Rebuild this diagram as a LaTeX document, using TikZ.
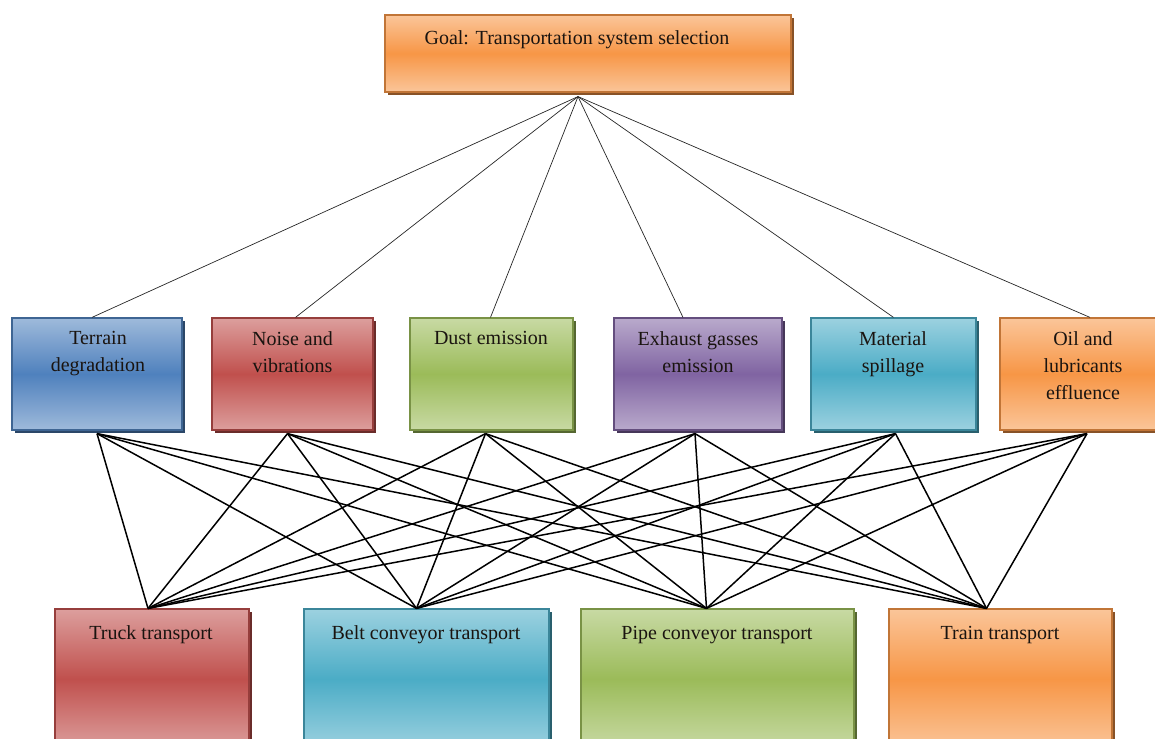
\documentclass[tikz,border=0pt]{standalone}
\usepackage{fontspec}
\setmainfont{Liberation Serif}
\usetikzlibrary{shadows,calc}
\definecolor{oblue}{HTML}{4F81BD}
\definecolor{ored}{HTML}{C0504D}
\definecolor{ogreen}{HTML}{9BBB59}
\definecolor{opurple}{HTML}{8064A2}
\definecolor{oaqua}{HTML}{4BACC6}
\definecolor{oorange}{HTML}{F79646}
\definecolor{txt}{HTML}{1A1410}
\tikzset{
  box/.style={rectangle, inner sep=0pt, draw=#1!78!black, line width=1.2pt,
    top color=#1!55!white, bottom color=#1!55!white, middle color=#1,
    drop shadow={shadow xshift=3pt, shadow yshift=-3pt, fill=#1!55!black, opacity=1}},
  lbl/.style={font=\fontsize{20}{27}\selectfont, align=center, inner sep=0pt, text=txt},
  toplink/.style={line width=0.7pt, black!85},
  botlink/.style={line width=1.5pt, black},
}
\begin{document}
\begin{tikzpicture}[x=1pt,y=-1pt]
\useasboundingbox (0,0) rectangle (1155,738);
\clip (0,0) rectangle (1155,738);
% goal
\node[box=oorange, minimum width=406pt, minimum height=77pt] (goal) at (588,53.5) {};
\node[lbl, anchor=base] (goalt) at (577,45) {Goal: Transportation system selection};
% criteria
\node[box=oblue,   minimum width=170pt, minimum height=112pt] (c1) at (97,374) {};
\node[box=ored,    minimum width=161pt, minimum height=112pt] (c2) at (292.5,374) {};
\node[box=ogreen,  minimum width=163pt, minimum height=112pt] (c3) at (491.5,374) {};
\node[box=opurple, minimum width=168pt, minimum height=112pt] (c4) at (698,374) {};
\node[box=oaqua,   minimum width=165pt, minimum height=112pt] (c5) at (893.5,374) {};
\node[box=oorange, minimum width=172pt, minimum height=112pt] (c6) at (1086,374) {};
\node[lbl, anchor=north] (c1t) at (98,331) {Terrain\\degradation};
\node[lbl, anchor=north] (c2t) at (292.5,331) {Noise and\\vibrations};
\node[lbl, anchor=north] (c3t) at (491,331) {Dust emission};
\node[lbl, anchor=north] (c4t) at (698,331) {Exhaust gasses\\emission};
\node[lbl, anchor=north] (c5t) at (893,331) {Material\\spillage};
\node[lbl, anchor=north] (c6t) at (1083,331) {Oil and\\lubricants\\effluence};
% alternatives
\node[box=ored,    minimum width=194pt, minimum height=140pt] (a1) at (152,679) {};
\node[box=oaqua,   minimum width=245pt, minimum height=140pt] (a2) at (426.5,679) {};
\node[box=ogreen,  minimum width=273pt, minimum height=140pt] (a3) at (717.5,679) {};
\node[box=oorange, minimum width=223pt, minimum height=140pt] (a4) at (1000.5,679) {};
\node[lbl, anchor=base] (a1t) at (151,639) {Truck transport};
\node[lbl, anchor=base] (a2t) at (426,639) {Belt conveyor transport};
\node[lbl, anchor=base] (a3t) at (717,639) {Pipe conveyor transport};
\node[lbl, anchor=base] (a4t) at (1000,639) {Train transport};
% goal links
\foreach \c/\s in {c1/-5,c2/3,c3/-1,c4/-15,c5/0,c6/4}
  \draw[toplink] ([xshift=-10pt,yshift=-4pt]goal.south) -- ([xshift=\s pt]\c.north);
% criteria-alternative links
\foreach \c/\cs in {c1/0,c2/-5,c3/-6,c4/-3,c5/2,c6/1}
  \foreach \a/\as in {a1/-4,a2/-10,a3/-11,a4/-14}
    \draw[botlink] ([xshift=\cs pt,yshift=-3pt]\c.south) -- ([xshift=\as pt]\a.north);
\end{tikzpicture}
\end{document}
